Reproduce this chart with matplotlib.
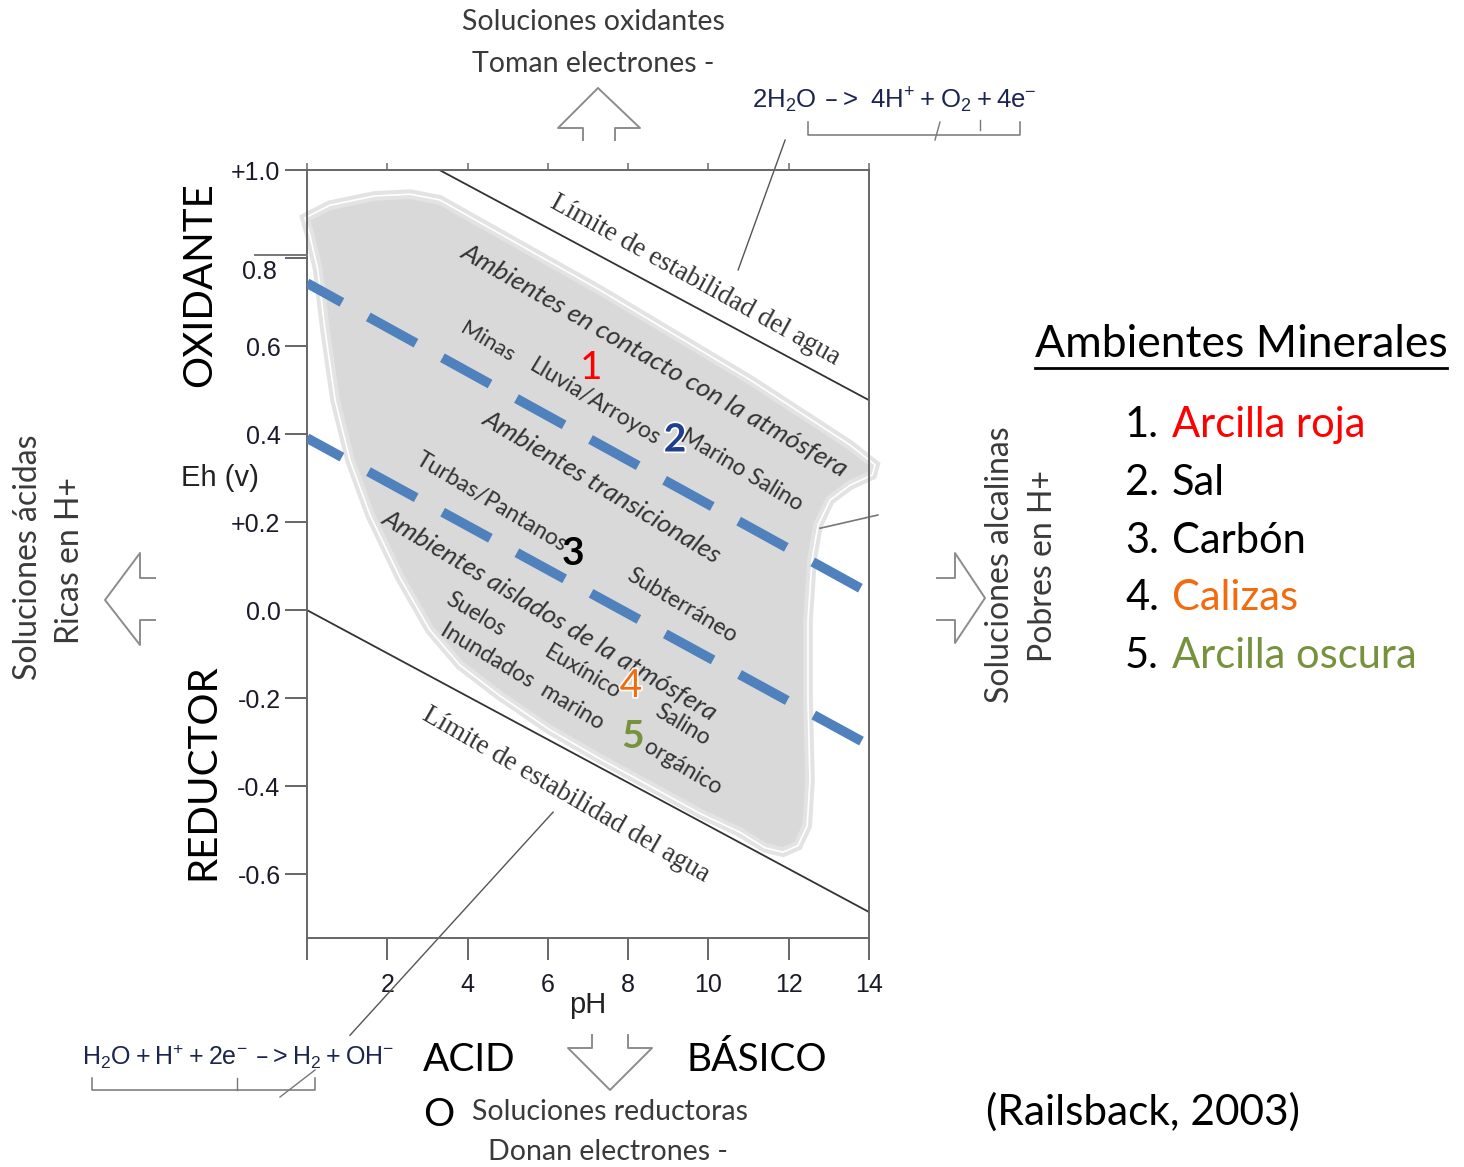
import matplotlib
matplotlib.use("Agg")
import matplotlib.pyplot as plt
import matplotlib.patheffects as pe
from matplotlib.patches import Polygon
from matplotlib.lines import Line2D

W, H = 1464, 1167

# eje pH / Eh
ph_ticks = [0, 2, 4, 6, 8, 10, 12, 14]
ph_labels = ['', '2', '4', '6', '8', '10', '12', '14']
eh_ticks = [1.0, 0.8, 0.6, 0.4, 0.2, 0.0, -0.2, -0.4, -0.6]
eh_labels = ['+1.0', '', '0.6', '0.4', '+0.2', '0.0', '-0.2', '-0.4', '-0.6']

# limites de estabilidad del agua (pH, Eh)
agua_sup_ph = [3.3, 14.0]
agua_sup_eh = [1.0, 0.477]
agua_inf_ph = [0.0, 14.0]
agua_inf_eh = [0.0, -0.686]

# lineas discontinuas azules
div1_ph = [0.0, 14.0]
div1_eh = [0.743, 0.039]
div2_ph = [0.0, 14.0]
div2_eh = [0.391, -0.307]

# contorno de la zona de ambientes naturales
zona_ph = [-0.05, 0.57, 1.69, 2.57, 3.31, 7.30, 11.04, 13.53, 14.15, 14.08, 13.53,
           13.03, 12.73, 12.58, 12.48, 12.48, 12.53, 12.46, 12.23, 11.86, 11.41,
           10.79, 9.79, 8.55, 7.30, 6.05, 4.81, 3.81, 3.06, 2.32, 1.57, 1.07,
           0.70, 0.45, 0.27, 0.07]
zona_eh = [0.891, 0.920, 0.941, 0.945, 0.932, 0.727, 0.523, 0.375, 0.330, 0.307,
           0.284, 0.250, 0.193, 0.114, -0.023, -0.205, -0.386, -0.490, -0.535,
           -0.550, -0.540, -0.505, -0.462, -0.400, -0.338, -0.272, -0.195,
           -0.125, -0.045, 0.073, 0.216, 0.341, 0.477, 0.636, 0.773, 0.852]

minerales = ['Arcilla roja', 'Sal', 'Carbón', 'Calizas', 'Arcilla oscura']
colores_min = ['#ff0000', '#000000', '#000000', '#f26b0f', '#76923c']

SANS = 'Lato'
GREY = '#3a3a3a'


def fx(x):
    return x / W


def fy(y):
    return 1 - y / H


def fig_line(fig, xs, ys, color='#888888', lw=1.4):
    fig.add_artist(Line2D([fx(x) for x in xs], [fy(y) for y in ys],
                          transform=fig.transFigure, color=color, lw=lw))


fig = plt.figure(figsize=(W / 100, H / 100), dpi=100)
ax = fig.add_axes([fx(307), fy(938), (869 - 307) / W, (938 - 170) / H])
ax.set_xlim(0, 14)
ax.set_ylim(-0.745, 1.0)

for s in ax.spines.values():
    s.set_color('#666666')
    s.set_linewidth(1.4)

ax.set_xticks(ph_ticks)
ax.set_xticklabels(ph_labels, fontsize=18, family='Liberation Sans', color='#1a1a2a')
ax.set_yticks(eh_ticks)
ax.set_yticklabels(eh_labels, fontsize=18, family='Liberation Sans', color='#1a1a2a')
ax.tick_params(axis='y', direction='out', length=16, width=1.4, color='#666666', pad=3)
ax.tick_params(axis='x', direction='out', length=16, width=1.4, color='#666666', pad=9)
top = ax.secondary_xaxis('top')
top.set_xticks(ph_ticks)
top.set_xticklabels([])
top.tick_params(direction='out', length=5, width=1.2, color='#777777')
top.spines['top'].set_visible(False)

# la etiqueta 0.8 aparece desplazada y recortada en el original
fig.text(fx(277), fy(272), '0.8', ha='right', va='center', fontsize=18,
         family='Liberation Sans', color='#1a1a2a')
fig_line(fig, [255, 307], [255, 255], '#777777', 1.4)

# zona gris
zona = list(zip(zona_ph, zona_eh))
ax.add_patch(Polygon(zona, closed=True, facecolor='#d9d9d9', edgecolor='#e3e3e3',
                     lw=7, zorder=1, clip_on=False))
ax.add_patch(Polygon(zona, closed=True, facecolor='none', edgecolor='white',
                     lw=1.2, zorder=1.1, clip_on=False))

ax.plot(agua_sup_ph, agua_sup_eh, color='#333333', lw=1.3, zorder=2)
ax.plot(agua_inf_ph, agua_inf_eh, color='#333333', lw=1.3, zorder=2)

# lineas indicadoras
ax.plot([11.91, 10.74], [1.068, 0.773], color='#555555', lw=1.0, clip_on=False)
ax.plot([6.13, 1.07], [-0.459, -0.966], color='#555555', lw=1.0, clip_on=False)
ax.plot([12.78, 14.22], [0.186, 0.216], color='#777777', lw=1.2, clip_on=False)

for xs, ys in [(div1_ph, div1_eh), (div2_ph, div2_eh)]:
    ax.plot(xs, ys, color='#4f81bd', lw=7, linestyle=(1.5, (5.6, 3.1)),
            solid_capstyle='butt', dash_capstyle='butt', zorder=4)

# textos dentro del diagrama (posicion en pixeles de la figura)
serif = 'Liberation Serif'
chart_txt = [
    ('Límite de estabilidad del agua', 695, 280, -29, 19.5, serif, 'normal'),
    ('Límite de estabilidad del agua', 566, 795, -30, 19.5, serif, 'normal'),
    ('Ambientes en contacto con la atmósfera', 655, 360, -30, 19, SANS, 'italic'),
    ('Minas', 487, 342, -31, 16, SANS, 'normal'),
    ('Lluvia/Arroyos', 595, 402, -31, 16.5, SANS, 'normal'),
    ('Marino Salino', 742, 470, -31, 16.5, SANS, 'normal'),
    ('Ambientes transicionales', 602, 487, -31, 19, SANS, 'italic'),
    ('Turbas/Pantanos', 492, 502, -31, 16.5, SANS, 'normal'),
    ('Subterráneo', 682, 606, -31, 16.5, SANS, 'normal'),
    ('Ambientes aislados de la atmósfera', 550, 615, -31, 19, SANS, 'italic'),
    ('Suelos', 476, 614, -31, 16.5, SANS, 'normal'),
    ('Inundados  marino', 522, 676, -31, 16.5, SANS, 'normal'),
    ('Euxínico', 583, 672, -31, 16.5, SANS, 'normal'),
    ('Salino', 682, 725, -31, 16.5, SANS, 'normal'),
    ('orgánico', 683, 767, -31, 16.5, SANS, 'normal'),
]
for t, x, y, r, fs, fam, st in chart_txt:
    fig.text(fx(x), fy(y), t, rotation=r, rotation_mode='anchor', ha='center',
             va='center', fontsize=fs, family=fam, style=st, color='#333333', zorder=5)

# numeros de minerales
white_edge = [pe.withStroke(linewidth=2.5, foreground='white')]
nums = [('1', 591, 368, '#ff0000', 'normal', None),
        ('2', 675, 440, '#1f3f8f', 'bold', white_edge),
        ('3', 573, 553, '#000000', 'bold', None),
        ('4', 631, 686, '#f26b0f', 'normal', white_edge),
        ('5', 633, 737, '#76923c', 'bold', None)]
for t, x, y, c, w, eff in nums:
    fig.text(fx(x), fy(y), t, ha='center', va='center', fontsize=28, family=SANS,
             weight=w, color=c, path_effects=eff, zorder=6)

# etiquetas de ejes
fig.text(fx(220), fy(478), 'Eh (v)', ha='center', va='center', fontsize=21,
         family='Liberation Sans', color='#222222')
fig.text(fx(588), fy(1005), 'pH', ha='center', va='center', fontsize=21,
         family='Liberation Sans', color='#222222')

# textos exteriores
fig.text(fx(593), fy(22), 'Soluciones oxidantes', ha='center', va='center',
         fontsize=20.5, family=SANS, color=GREY)
fig.text(fx(593), fy(64), 'Toman electrones -', ha='center', va='center',
         fontsize=20.5, family=SANS, color=GREY)
fig.text(fx(610), fy(1112), 'Soluciones reductoras', ha='center', va='center',
         fontsize=20.5, family=SANS, color=GREY)
fig.text(fx(608), fy(1152), 'Donan electrones -', ha='center', va='center',
         fontsize=20.5, family=SANS, color=GREY)
fig.text(fx(28), fy(557), 'Soluciones ácidas', rotation=90, ha='center', va='center',
         fontsize=23, family=SANS, color=GREY)
fig.text(fx(70), fy(561), 'Ricas en H+', rotation=90, ha='center', va='center',
         fontsize=23, family=SANS, color=GREY)
fig.text(fx(1000), fy(565), 'Soluciones alcalinas', rotation=90, ha='center',
         va='center', fontsize=23, family=SANS, color=GREY)
fig.text(fx(1043), fy(566), 'Pobres en H+', rotation=90, ha='center', va='center',
         fontsize=23, family=SANS, color=GREY)

fig.text(fx(200), fy(285), 'OXIDANTE', rotation=90, ha='center', va='center',
         fontsize=29, family=SANS, color='black')
fig.text(fx(203), fy(772), 'REDUCTOR', rotation=90, ha='center', va='center',
         fontsize=29, family=SANS, color='black')
fig.text(fx(423), fy(1060), 'ACID', ha='left', va='center', fontsize=28,
         family=SANS, color='black')
fig.text(fx(423), fy(1115), 'O', ha='left', va='center', fontsize=28,
         family=SANS, color='black')
fig.text(fx(687), fy(1060), 'BÁSICO', ha='left', va='center', fontsize=28,
         family=SANS, color='black')
fig.text(fx(1143), fy(1112), '(Railsback, 2003)', ha='center', va='center',
         fontsize=30.5, family=SANS, color='black')

# ecuaciones
eq_col = '#1c2450'
fig.text(fx(752), fy(100), r'$\mathregular{2H_2O\ –>\ 4H^{+} + O_2 + 4e^{-}}$',
         ha='left', va='center', fontsize=18.5, family='Liberation Sans', color=eq_col)
fig.text(fx(82), fy(1057), r'$\mathregular{H_2O + H^{+} + 2e^{-}\ –>H_2 + OH^{-}}$',
         ha='left', va='center', fontsize=18, family='Liberation Sans', color=eq_col)
fig_line(fig, [808, 808, 1020, 1020], [122, 135, 135, 122], '#777777', 1.1)
fig_line(fig, [935, 940], [140, 122], '#777777', 1.0)
fig_line(fig, [980, 980], [130, 120], '#777777', 1.0)
fig_line(fig, [92, 92, 315, 315], [1078, 1090, 1090, 1078], '#777777', 1.1)
fig_line(fig, [237, 237], [1090, 1078], '#777777', 1.0)
fig_line(fig, [280, 315], [1097, 1070], '#777777', 1.0)

# leyenda de minerales
fig.text(fx(1035), fy(345), 'Ambientes Minerales', ha='left', va='center',
         fontsize=32, family=SANS, color='black')
fig_line(fig, [1035, 1447], [368, 368], 'black', 2.0)
for i, (m, c) in enumerate(zip(minerales, colores_min)):
    y = 425 + i * 57.8
    fig.text(fx(1125), fy(y), f'{i + 1}.', ha='left', va='center', fontsize=30,
             family=SANS, color='black')
    fig.text(fx(1172), fy(y), m, ha='left', va='center', fontsize=30,
             family=SANS, color=c)

# flechas huecas
arrow_col = '#8c8c8c'
fig_line(fig, [583, 583, 558, 598, 640, 615, 615], [140, 128, 128, 88, 128, 128, 140], arrow_col)
fig_line(fig, [592, 592, 568, 610, 652, 628, 628], [1035, 1048, 1048, 1090, 1048, 1048, 1035], arrow_col)
fig_line(fig, [155, 140, 140, 105, 140, 140, 155], [578, 578, 553, 600, 645, 620, 620], arrow_col)
fig_line(fig, [937, 955, 955, 985, 955, 955, 937], [578, 578, 553, 598, 643, 620, 620], arrow_col)

fig.savefig('out.png', dpi=100)
